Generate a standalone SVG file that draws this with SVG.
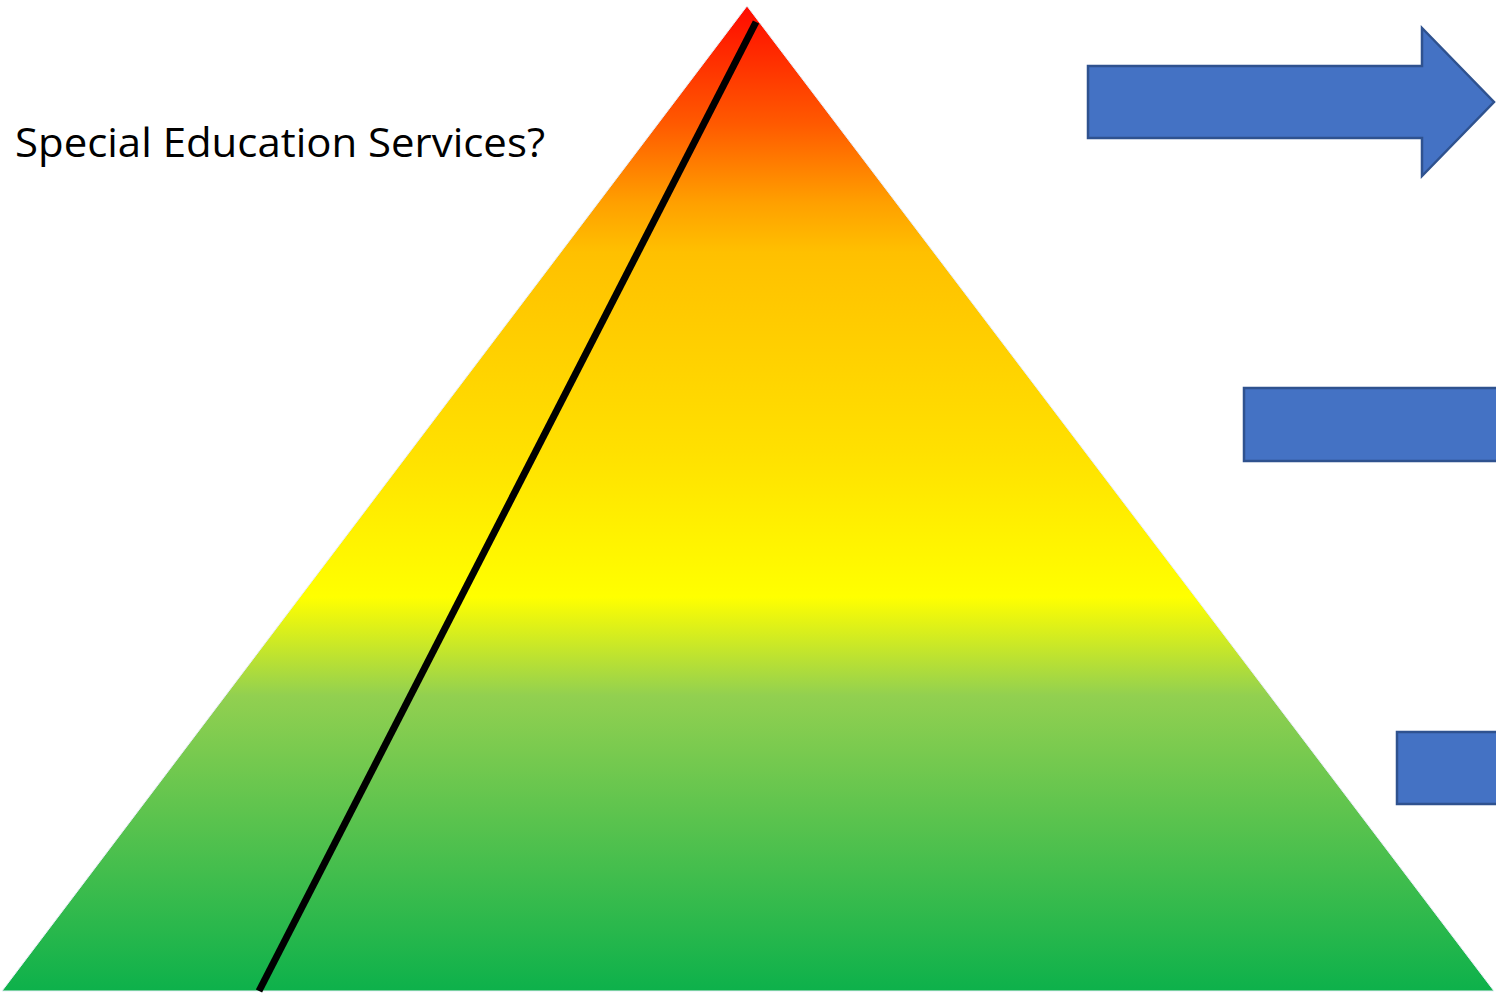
<svg xmlns="http://www.w3.org/2000/svg" width="1496" height="994" viewBox="0 0 1496 994">
<style>
.blk{fill:#4472c4;stroke:#2f528f;stroke-width:2.5}
.lbl{font-family:"Open Sans","Liberation Sans",sans-serif;font-size:40px;fill:#000}
</style>
<defs>
<linearGradient id="pg" x1="0" y1="6" x2="0" y2="991" gradientUnits="userSpaceOnUse">
<stop offset="0" stop-color="#ff0a00"/>
<stop offset="0.12" stop-color="#ff5a00"/>
<stop offset="0.2" stop-color="#ffa000"/>
<stop offset="0.25" stop-color="#ffc000"/>
<stop offset="0.45" stop-color="#ffe000"/>
<stop offset="0.6" stop-color="#ffff00"/>
<stop offset="0.7" stop-color="#92d050"/>
<stop offset="1" stop-color="#0db14b"/>
</linearGradient>
</defs>
<rect width="1496" height="994" fill="#fff"/>
<g id="pyramid">
<polygon points="747,6 1494,991 2,991" fill="url(#pg)" stroke="#e8eef8" stroke-width="1"/>
</g>
<g id="connectors">
<line x1="756" y1="22" x2="259" y2="991" stroke="#000" stroke-width="7"/>
</g>
<g id="label">
<text class="lbl" x="15" y="157" textLength="530" lengthAdjust="spacingAndGlyphs">Special Education Services?</text>
</g>
<g id="arrow1">
<polygon class="blk" points="1088,66 1422,66 1422,28 1494,102 1422,176 1422,138 1088,138"/>
</g>
<g id="bar2">
<rect class="blk" x="1244" y="388" width="256" height="73"/>
</g>
<g id="bar3">
<rect class="blk" x="1397" y="732" width="103" height="72"/>
</g>
</svg>
